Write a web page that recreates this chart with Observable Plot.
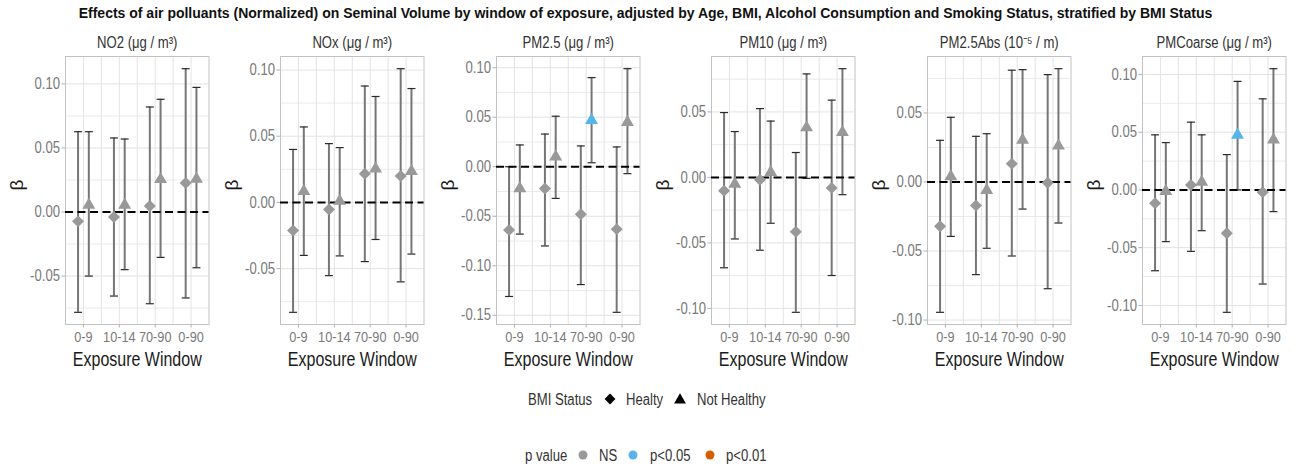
<!DOCTYPE html>
<html><head><meta charset="utf-8">
<script src="https://cdn.jsdelivr.net/npm/d3@7"></script>
<script src="https://cdn.jsdelivr.net/npm/@observablehq/plot@0.6"></script>
<style>
html,body{margin:0;padding:0;background:#fff;}
#wrap{position:relative;width:1291px;height:467px;overflow:hidden;font-family:"Liberation Sans",Arial,sans-serif;}
#wrap svg.panel{position:absolute;top:24px;}
#overlay{position:absolute;left:0;top:0;}
</style></head><body><div id="wrap"></div>
<script>
// ---------- categories / labels ----------
const windows = ["0-9", "10-14", "70-90", "0-90"];
const groups = ["Healty", "Not Healthy"];
const pLevels = ["NS", "p<0.05", "p<0.01"];
const panelTitles = ["NO2 (μg / m³)", "NOx (μg / m³)", "PM2.5 (μg / m³)", "PM10 (μg / m³)", "PM2.5Abs (10⁻⁵ / m)", "PMCoarse (μg / m³)"];
const mainTitle = "Effects of air polluants (Normalized) on Seminal Volume by window of exposure, adjusted by Age, BMI, Alcohol Consumption and Smoking Status, stratified by BMI Status";
const xLabel = "Exposure Window";
const yLabel = "β";

// ---------- values (beta, CI low, CI high) per window ----------
const allNS = ["NS", "NS", "NS", "NS"];

const no2_H_beta  = [-0.0073, -0.0039, 0.0047, 0.0226];
const no2_H_lo    = [-0.0783, -0.0656, -0.0716, -0.0671];
const no2_H_hi    = [0.0627, 0.0578, 0.0820, 0.1119];
const no2_NH_beta = [0.0055, 0.0055, 0.0255, 0.0258];
const no2_NH_lo   = [-0.0500, -0.0450, -0.0354, -0.0435];
const no2_NH_hi   = [0.0627, 0.0570, 0.0880, 0.0973];

const nox_H_beta  = [-0.0212, -0.0053, 0.0217, 0.0200];
const nox_H_lo    = [-0.0830, -0.0553, -0.0447, -0.0600];
const nox_H_hi    = [0.0400, 0.0444, 0.0879, 0.1010];
const nox_NH_beta = [0.0085, 0.0010, 0.0255, 0.0235];
const nox_NH_lo   = [-0.0400, -0.0404, -0.0280, -0.0390];
const nox_NH_hi   = [0.0570, 0.0414, 0.0800, 0.0860];

const pm25_H_beta  = [-0.0640, -0.0220, -0.0480, -0.0630];
const pm25_H_lo    = [-0.1310, -0.0800, -0.1190, -0.1470];
const pm25_H_hi    = [0.0000, 0.0330, 0.0210, 0.0200];
const pm25_NH_beta = [-0.0220, 0.0100, 0.0470, 0.0450];
const pm25_NH_lo   = [-0.0680, -0.0320, 0.0040, -0.0070];
const pm25_NH_hi   = [0.0220, 0.0510, 0.0900, 0.0990];
const pm25_NH_p    = ["NS", "NS", "p<0.05", "NS"];

const pm10_H_beta  = [-0.0102, -0.0018, -0.0415, -0.0080];
const pm10_H_lo    = [-0.0690, -0.0556, -0.1030, -0.0749];
const pm10_H_hi    = [0.0495, 0.0525, 0.0190, 0.0590];
const pm10_NH_beta = [-0.0050, 0.0040, 0.0380, 0.0345];
const pm10_NH_lo   = [-0.0470, -0.0350, -0.0008, -0.0132];
const pm10_NH_hi   = [0.0350, 0.0430, 0.0790, 0.0830];

const abs_H_beta  = [-0.0321, -0.0171, 0.0133, -0.0005];
const abs_H_lo    = [-0.0944, -0.0671, -0.0536, -0.0773];
const abs_H_hi    = [0.0302, 0.0331, 0.0810, 0.0778];
const abs_NH_beta = [0.0040, -0.0060, 0.0305, 0.0262];
const abs_NH_lo   = [-0.0394, -0.0480, -0.0196, -0.0297];
const abs_NH_hi   = [0.0469, 0.0350, 0.0814, 0.0821];

const pmc_H_beta  = [-0.0116, 0.0043, -0.0376, -0.0020];
const pmc_H_lo    = [-0.0700, -0.0532, -0.1060, -0.0815];
const pmc_H_hi    = [0.0477, 0.0587, 0.0306, 0.0789];
const pmc_NH_beta = [-0.0012, 0.0068, 0.0475, 0.0435];
const pmc_NH_lo   = [-0.0448, -0.0353, 0.0000, -0.0188];
const pmc_NH_hi   = [0.0410, 0.0477, 0.0940, 0.1050];
const pmc_NH_p    = ["NS", "NS", "p<0.05", "NS"];

// ---------- build tables ----------
function rows(beta, lo, hi, p, group) {
  return windows.map((w, i) => ({window: w, idx: i + 1, group, beta: beta[i], lo: lo[i], hi: hi[i], p: p[i]}));
}
const panels = [
  [...rows(no2_H_beta, no2_H_lo, no2_H_hi, allNS, groups[0]), ...rows(no2_NH_beta, no2_NH_lo, no2_NH_hi, allNS, groups[1])],
  [...rows(nox_H_beta, nox_H_lo, nox_H_hi, allNS, groups[0]), ...rows(nox_NH_beta, nox_NH_lo, nox_NH_hi, allNS, groups[1])],
  [...rows(pm25_H_beta, pm25_H_lo, pm25_H_hi, allNS, groups[0]), ...rows(pm25_NH_beta, pm25_NH_lo, pm25_NH_hi, pm25_NH_p, groups[1])],
  [...rows(pm10_H_beta, pm10_H_lo, pm10_H_hi, allNS, groups[0]), ...rows(pm10_NH_beta, pm10_NH_lo, pm10_NH_hi, allNS, groups[1])],
  [...rows(abs_H_beta, abs_H_lo, abs_H_hi, allNS, groups[0]), ...rows(abs_NH_beta, abs_NH_lo, abs_NH_hi, allNS, groups[1])],
  [...rows(pmc_H_beta, pmc_H_lo, pmc_H_hi, allNS, groups[0]), ...rows(pmc_NH_beta, pmc_NH_lo, pmc_NH_hi, pmc_NH_p, groups[1])]
];

// ---------- fonts: prefer a real narrow face, else compress regular glyphs ----------
function hasFont(name) {
  const c = document.createElement("canvas").getContext("2d");
  const s = "Exposure Window 0.05 mmmiiiWW";
  c.font = "16px monospace"; const a = c.measureText(s).width;
  c.font = `16px "${name}", monospace`; const b = c.measureText(s).width;
  return Math.abs(a - b) > 0.5;
}
const NARROW = hasFont("Liberation Sans Narrow");
const FONT = NARROW ? '"Liberation Sans Narrow", "Liberation Sans", Arial, sans-serif' : '"Liberation Sans", Arial, sans-serif';
const SQUEEZE = NARROW ? 1 : 0.82;

const pColors = ["#999999", "#56B4E9", "#D55E00"];
const dodge = 0.15;
const capSymbol = {draw(ctx, size) { const w = Math.sqrt(size / Math.PI); ctx.moveTo(-w, 0); ctx.lineTo(w, 0); }};

const wrap = document.getElementById("wrap");

function squeeze(root) {
  if (SQUEEZE === 1) return;
  root.querySelectorAll("text").forEach(t => {
    const tr = t.getAttribute("transform") || "";
    if (tr.includes("rotate") || t.classList.contains("keep")) return;
    const L = t.getComputedTextLength();
    if (L > 0) { t.setAttribute("textLength", (L * SQUEEZE).toFixed(2)); t.setAttribute("lengthAdjust", "spacingAndGlyphs"); }
  });
}

panels.forEach((data, k) => {
  const ext = [d3.min(data, d => d.lo), d3.max(data, d => d.hi)];
  const pad = (ext[1] - ext[0]) * 0.05;
  const domain = [ext[0] - pad, ext[1] + pad];
  const major = d3.range(Math.ceil(domain[0] / 0.05), Math.floor(domain[1] / 0.05) + 1).map(v => +(v * 0.05).toFixed(3));
  const minor = d3.range(Math.ceil(domain[0] / 0.05 - 0.5), Math.floor(domain[1] / 0.05 - 0.5) + 1).map(v => +((v + 0.5) * 0.05).toFixed(4));
  const xGrid = d3.range(1, windows.length + 0.01, 0.5);
  const X = d => d.idx + (d.group === groups[0] ? -dodge : dodge);
  const H = data.filter(d => d.group === groups[0]);
  const NH = data.filter(d => d.group === groups[1]);

  const svg = Plot.plot({
    width: 211.5, height: 350,
    marginLeft: 64, marginRight: 4, marginTop: 32, marginBottom: 50,
    x: {domain: [0.5, windows.length + 0.5]},
    y: {domain},
    color: {domain: pLevels, range: pColors},
    style: {fontFamily: FONT, fontSize: "16px", background: "transparent", overflow: "visible"},
    marks: [
      Plot.gridY(minor, {stroke: "#e8e8e8", strokeOpacity: 1, strokeWidth: 0.9}),
      Plot.gridY(major, {stroke: "#e2e2e2", strokeOpacity: 1, strokeWidth: 1}),
      Plot.gridX(xGrid, {stroke: "#e4e4e4", strokeOpacity: 1, strokeWidth: 1}),
      Plot.frame({stroke: "#c2c2c2"}),
      Plot.axisY({ticks: major, tickFormat: d => d.toFixed(2), tickSize: 3.5, tickPadding: 2, stroke: "#b0b0b0", fill: "#7a7a7a", fontSize: 16, label: null}),
      Plot.axisX({ticks: d3.range(1, windows.length + 1), tickFormat: i => windows[i - 1], tickSize: 3.5, tickPadding: 3, stroke: "#b0b0b0", fill: "#7a7a7a", fontSize: 15.5, label: null}),
      Plot.ruleX(data, {x: X, y1: "lo", y2: "hi", stroke: "#767676", strokeWidth: 2}),
      Plot.dot(data, {x: X, y: "lo", symbol: capSymbol, r: 4, stroke: "#2a2a2a", strokeWidth: 1.2, fill: "none"}),
      Plot.dot(data, {x: X, y: "hi", symbol: capSymbol, r: 4, stroke: "#2a2a2a", strokeWidth: 1.2, fill: "none"}),
      Plot.ruleY([0], {stroke: "#000", strokeWidth: 2, strokeDasharray: "8,4.5"}),
      Plot.dot(H, {x: X, y: "beta", symbol: "diamond2", r: 5.4, fill: "p", stroke: "none"}),
      Plot.dot(NH, {x: X, y: "beta", symbol: "triangle", r: 4.8, fill: "p", stroke: "none"}),
      Plot.text([panelTitles[k]], {frameAnchor: "top", dy: -14, lineAnchor: "middle", fontSize: 16, fill: "#333"}),
      Plot.text([xLabel], {frameAnchor: "bottom", dy: 35.5, lineAnchor: "middle", fontSize: 19.5, fill: "#1a1a1a"}),
      Plot.text([yLabel], {frameAnchor: "left", dx: -49, rotate: -90, lineAnchor: "middle", fontSize: 19, fill: "#1a1a1a"})
    ]
  });
  svg.classList.add("panel");
  const panelLeft = 65 + k * 215.4;
  svg.style.left = (panelLeft - 64) + "px";
  wrap.appendChild(svg);
  squeeze(svg);
});

// ---------- title + legends ----------
const ov = d3.create("svg").attr("id", "overlay").attr("width", 1291).attr("height", 467)
  .style("font-family", FONT);
ov.append("text").attr("class", "keep").attr("x", 645.5).attr("y", 18).attr("text-anchor", "middle")
  .style("font-family", '"Liberation Sans", Arial, sans-serif')
  .attr("font-weight", "bold").attr("font-size", 14).attr("fill", "#111").text(mainTitle);

const lg1 = ov.append("g").attr("font-size", 16).attr("fill", "#333");
lg1.append("text").attr("x", 528).attr("y", 404.5).text("BMI Status");
lg1.append("path").attr("transform", "translate(610,399)").attr("d", d3.symbol(d3.symbolDiamond2, 75)()).attr("fill", "#000");
lg1.append("text").attr("x", 626).attr("y", 404.5).text(groups[0]);
lg1.append("path").attr("transform", "translate(680,400)").attr("d", d3.symbol(d3.symbolTriangle, 60)()).attr("fill", "#000");
lg1.append("text").attr("x", 697).attr("y", 404.5).text(groups[1]);

const lg2 = ov.append("g").attr("font-size", 16).attr("fill", "#333");
lg2.append("text").attr("x", 525).attr("y", 460.5).text("p value");
const swX = [583, 633, 710], txX = [599, 650, 726];
pLevels.forEach((p, i) => {
  lg2.append("circle").attr("cx", swX[i]).attr("cy", 455).attr("r", 4.5).attr("fill", pColors[i]);
  lg2.append("text").attr("x", txX[i]).attr("y", 460.5).text(p);
});
wrap.appendChild(ov.node());
squeeze(ov.node());
</script></body></html>
